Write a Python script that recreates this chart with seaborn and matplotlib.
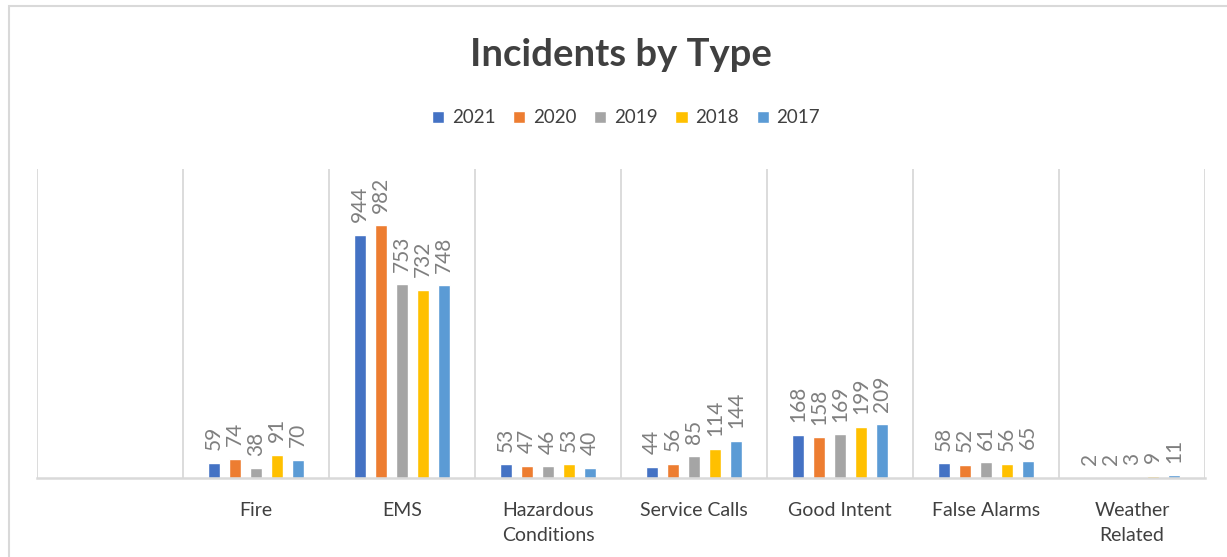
import numpy as np
import pandas as pd
import seaborn as sns
import matplotlib.pyplot as plt
from matplotlib.patches import Rectangle

sns.set_style('white')
plt.rcParams['font.family'] = ['Lato', 'DejaVu Sans']

# data
categories = ['Fire', 'EMS', 'Hazardous\nConditions', 'Service Calls',
              'Good Intent', 'False Alarms', 'Weather\nRelated']
years = ['2021', '2020', '2019', '2018', '2017']
y2021 = [59, 944, 53, 44, 168, 58, 2]
y2020 = [74, 982, 47, 56, 158, 52, 2]
y2019 = [38, 753, 46, 85, 169, 61, 3]
y2018 = [91, 732, 53, 114, 199, 56, 9]
y2017 = [70, 748, 40, 144, 209, 65, 11]
colors = ['#4472C4', '#ED7D31', '#A5A5A5', '#FFC000', '#5B9BD5']

series = [y2021, y2020, y2019, y2018, y2017]
rows = []
for yr, vals in zip(years, series):
    for cat, v in zip(categories, vals):
        rows.append({'Type': cat, 'Year': yr, 'Count': v})
df = pd.DataFrame(rows)

# blank first slot like in the original sheet
order = [''] + categories

fig = plt.figure(figsize=(12.27, 5.57), dpi=100)
ax = fig.add_axes([37 / 1227, 1 - 478 / 557, (1205 - 37) / 1227, (478 - 169) / 557])

sns.barplot(data=df, x='Type', y='Count', hue='Year', order=order,
            hue_order=years, palette=colors, width=0.72, gap=0.43,
            saturation=1, ax=ax, legend=True)

for cont in ax.containers:
    ax.bar_label(cont, rotation=90, padding=9, color='#7F7F7F', fontsize=15)

ax.set_xlim(-0.5, len(order) - 0.5)
ax.set_ylim(0, 1200)
ax.set_xlabel('')
ax.set_ylabel('')
ax.set_yticks([])
for b in np.arange(-0.5, len(order), 1):
    ax.axvline(b, color='#D9D9D9', lw=1.3, zorder=0)
for s in ['top', 'right', 'left']:
    ax.spines[s].set_visible(False)
ax.spines['bottom'].set_color('#D9D9D9')
ax.spines['bottom'].set_linewidth(1.8)
ax.tick_params(axis='x', length=0, pad=17, labelsize=14, labelcolor='#404040')
for lab in ax.get_xticklabels():
    lab.set_linespacing(1.6)

ax.legend(loc='center', bbox_to_anchor=(626 / 1227, 1 - 118 / 557),
          bbox_transform=fig.transFigure, ncol=5, frameon=False,
          fontsize=13.5, handlelength=0.65, handleheight=0.65,
          handletextpad=0.4, columnspacing=0.95, labelcolor='#404040')

fig.text(621 / 1227, 1 - 55 / 557, 'Incidents by Type', ha='center',
         va='center', fontsize=27.5, fontweight='bold', color='#404040')

fig.patches.append(Rectangle((9 / 1227, -0.1), 1.2, 1 - 6 / 557 + 0.1,
                             transform=fig.transFigure, fill=False,
                             edgecolor='#D9D9D9', lw=1.5))

fig.savefig('out.png', dpi=100)
